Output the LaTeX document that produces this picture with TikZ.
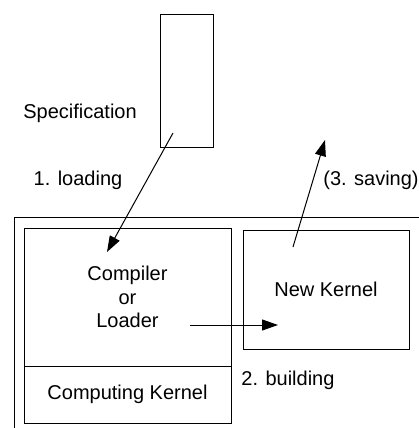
\documentclass[tikz,border=0pt]{standalone}
\usepackage{fontspec}
\setmainfont{Liberation Sans}
\usetikzlibrary{arrows.meta}

\begin{document}
\begin{tikzpicture}[x=1pt,y=-1pt,line width=1pt,
  every node/.style={inner sep=0pt,font=\fontsize{20}{23.5}\selectfont},
  box/.style={draw,align=center},
  flow/.style={-{Triangle[length=16pt,width=11pt]}}]
\useasboundingbox (0,0) rectangle (419,428);
\draw (14,428) -- (14,217) -- (419,217);
\node [box,minimum width=53,minimum height=132] (spec) at (186.5,81) {};
\node (speclabel) at (80,113) {Specification};
\node [box,minimum width=207,minimum height=138] (compiler) at (127.5,297) {Compiler\\or\\Loader};
\node [box,minimum width=207,minimum height=57] (kernel) at (127.5,394.5) {Computing Kernel};
\node [box,minimum width=166,minimum height=119] (newkernel) at (326,289.5) {New Kernel};
% arrow ends inside the boxes
\coordinate (loadfrom) at (173,133);
\coordinate (loadto) at (107,252);
\coordinate (buildfrom) at (190,325);
\coordinate (buildto) at (278,325);
\coordinate (savefrom) at (293,247);
\coordinate (saveto) at (325,140);
\draw [flow] (loadfrom) -- (loadto);
\draw [flow] (buildfrom) -- (buildto);
\draw [flow] (savefrom) -- (saveto);
\node (loading) at (78,180) {1. loading};
\node (building) at (288,380) {2. building};
\node (saving) at (371,180) {(3. saving)};
\end{tikzpicture}
\end{document}
